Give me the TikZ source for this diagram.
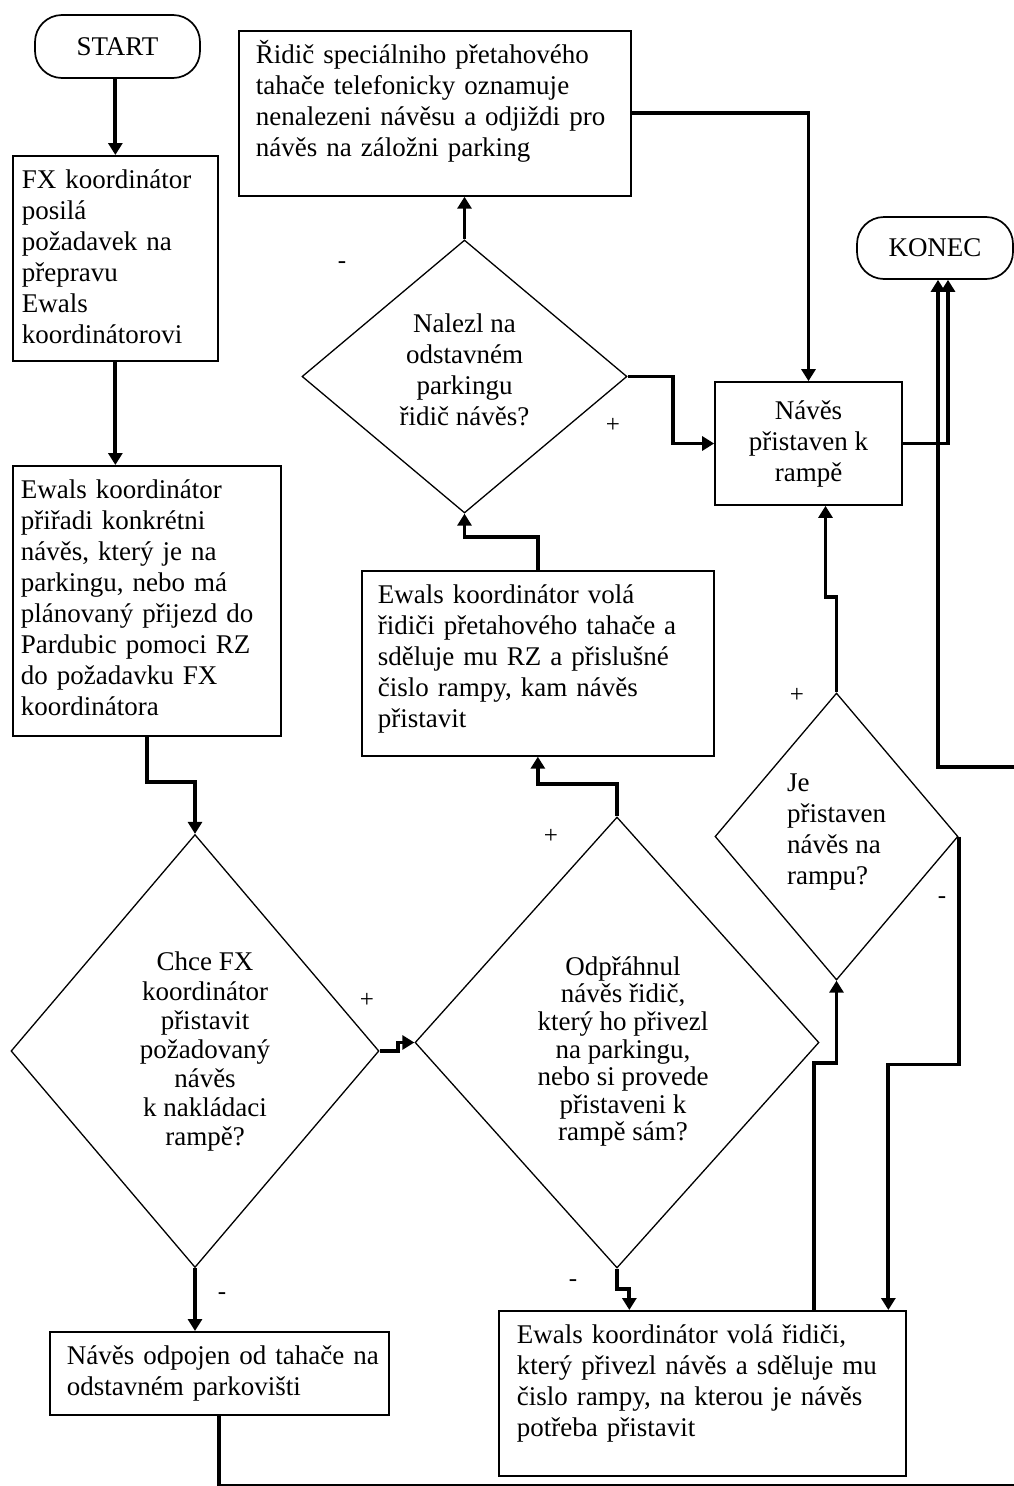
\documentclass[tikz,border=0pt]{standalone}
\usepackage{fontspec}
\setmainfont{Liberation Serif}
\usetikzlibrary{shapes.geometric,arrows.meta}
\newcommand\tl[1]{\begin{tabular}[t]{@{}l@{}}#1\end{tabular}}
\newcommand\dtx[5]{\smash{\makebox[0pt]{\hspace*{#1}\hspace*{#1}\raisebox{#2}{\renewcommand\arraystretch{#3}\begin{tabular}{@{}#4@{}}#5\end{tabular}}}}}
\tikzset{
  x=1pt,y=-1pt,
  pbox/.style={draw, line width=1.7pt, rectangle, anchor=north west, align=left,
    inner ysep=11.3pt, text height=21.7pt},
  term/.style={draw, line width=1.7pt, rounded corners=27pt, inner sep=0pt},
  cbox/.style={draw, line width=1.7pt, rectangle, align=center, inner sep=0pt},
  dia/.style={draw, diamond, line width=1.3pt, inner sep=0pt},
  conn/.style={line width=3.8pt},
  arr/.style={conn, -{Triangle[width=14pt,length=12pt]}},
  sign/.style={font=\fontsize{25}{28}\selectfont, inner sep=0pt}
}
\begin{document}
\begin{tikzpicture}[font=\fontsize{27}{31}\selectfont]
\useasboundingbox[fill=white] (0,0) rectangle (1014,1486);
\begin{scope}
\clip (0,0) rectangle (1014,1486);

% terminals
\node[term, minimum width=165pt, minimum height=63pt] (start) at (117.5,46.5) {START};
\node[term, minimum width=156pt, minimum height=62pt] (konec) at (935,248) {KONEC};

% process boxes
\node[pbox, inner xsep=9pt, text width=187pt, text depth=160.7pt] (fx) at (12,155)
  {\tl{FX koordinátor\\posilá\\požadavek na\\přepravu\\Ewals\\koordinátorovi}};
\node[pbox, inner xsep=8pt, text width=252pt, text depth=225.7pt] (e1) at (12,465)
  {\tl{Ewals koordinátor\\přiřadi konkrétni\\návěs, který je na\\parkingu, nebo má\\plánovaný přijezd do\\Pardubic pomoci RZ\\do požadavku FX\\koordinátora}};
\node[pbox, inner xsep=17pt, text width=358pt, text depth=120.7pt] (rid) at (238,30)
  {\tl{Řidič speciálniho přetahového\\tahače telefonicky oznamuje\\nenalezeni návěsu a odjiždi pro\\návěs na záložni parking}};
\node[pbox, inner xsep=16pt, text width=320pt, text depth=140.7pt] (e3) at (361,570)
  {\tl{Ewals koordinátor volá\\řidiči přetahového tahače a\\sděluje mu RZ a přislušné\\čislo rampy, kam návěs\\přistavit}};
\node[pbox, inner xsep=18pt, text width=371pt, text depth=120.7pt] (e2) at (498,1310)
  {\tl{Ewals koordinátor volá řidiči,\\který přivezl návěs a sděluje mu\\čislo rampy, na kterou je návěs\\potřeba přistavit}};
\node[pbox, inner xsep=17pt, text width=305pt, text depth=38.7pt] (odp) at (49,1331)
  {\tl{Návěs odpojen od tahače na\\odstavném parkovišti}};
\node[cbox, minimum width=187pt, minimum height=123pt] (np) at (808.5,443.5)
  {Návěs\\přistaven k\\rampě};

% decisions
\node[dia, minimum width=368pt, minimum height=433pt] (d1) at (195,1051)
  {\dtx{10pt}{-7.75pt}{0.94}{c}{Chce FX\\koordinátor\\přistavit\\požadovaný\\návěs\\k nakládaci\\rampě?}};
\node[dia, minimum width=404pt, minimum height=451pt] (d2) at (617,1042.5)
  {\dtx{6pt}{-16.25pt}{0.89}{c}{Odpřáhnul\\návěs řidič,\\který ho přivezl\\na parkingu,\\nebo si provede\\přistaveni k\\rampě sám?}};
\node[dia, minimum width=243pt, minimum height=287pt] (d3) at (836.5,836.5)
  {\dtx{0pt}{-1.75pt}{1}{l}{Je\\přistaven\\návěs na\\rampu?}};
\node[dia, minimum width=325pt, minimum height=273pt] (d4) at (464.5,376.5)
  {\dtx{0pt}{-2.25pt}{1}{c}{Nalezl na\\odstavném\\parkingu\\řidič návěs?}};

% connectors
\draw[arr] (fx.north |- start.south) -- (fx.north);
\draw[arr] (fx.south) -- (fx.south |- e1.north);
\draw[arr] (e1.south) -- ++(0,45) -| (d1.north);
\draw[arr] (d1.east) -- ++(18,0) |- (d2.west);
\draw[arr] (d1.south) -- (d1.south |- odp.north);
\draw[arr] (odp.south) -- ++(0,70) -| (1030,767) -| ([xshift=3pt]konec.south);
\draw[arr] (d2.south) -- ++(0,20) -| ([xshift=-73pt]e2.north);
\draw[arr] (d2.north) -- ++(0,-32) -| (e3.south);
\draw[arr] (e3.north) -- ++(0,-33) -| (d4.south);
\draw[arr] (d4.north) -- (d4.north |- rid.south);
\draw[arr] (d4.east) -- ++(45,0) |- (np.west);
\draw[arr] (rid.east) -| (np.north);
\draw[arr] (np.east) -| ([xshift=13pt]konec.south);
\draw[arr] (d3.north) -- ++(0,-95) -| ([xshift=17pt]np.south);
\draw[arr] ([xshift=112pt]e2.north) -- ++(0,-247) -| (d3.south);
\draw[arr] (d3.east) -- ++(0,228) -| ([xshift=186pt]e2.north);

% branch labels
\node[sign] (s1) at (367,1000) {+};
\node[sign] (s2) at (222,1296) {-};
\node[sign] (s3) at (573,1283) {-};
\node[sign] (s4) at (551,836) {+};
\node[sign] (s5) at (342,265) {-};
\node[sign] (s6) at (613,425) {+};
\node[sign] (s7) at (797,695) {+};
\node[sign] (s8) at (942,900) {-};
\end{scope}
\end{tikzpicture}
\end{document}
